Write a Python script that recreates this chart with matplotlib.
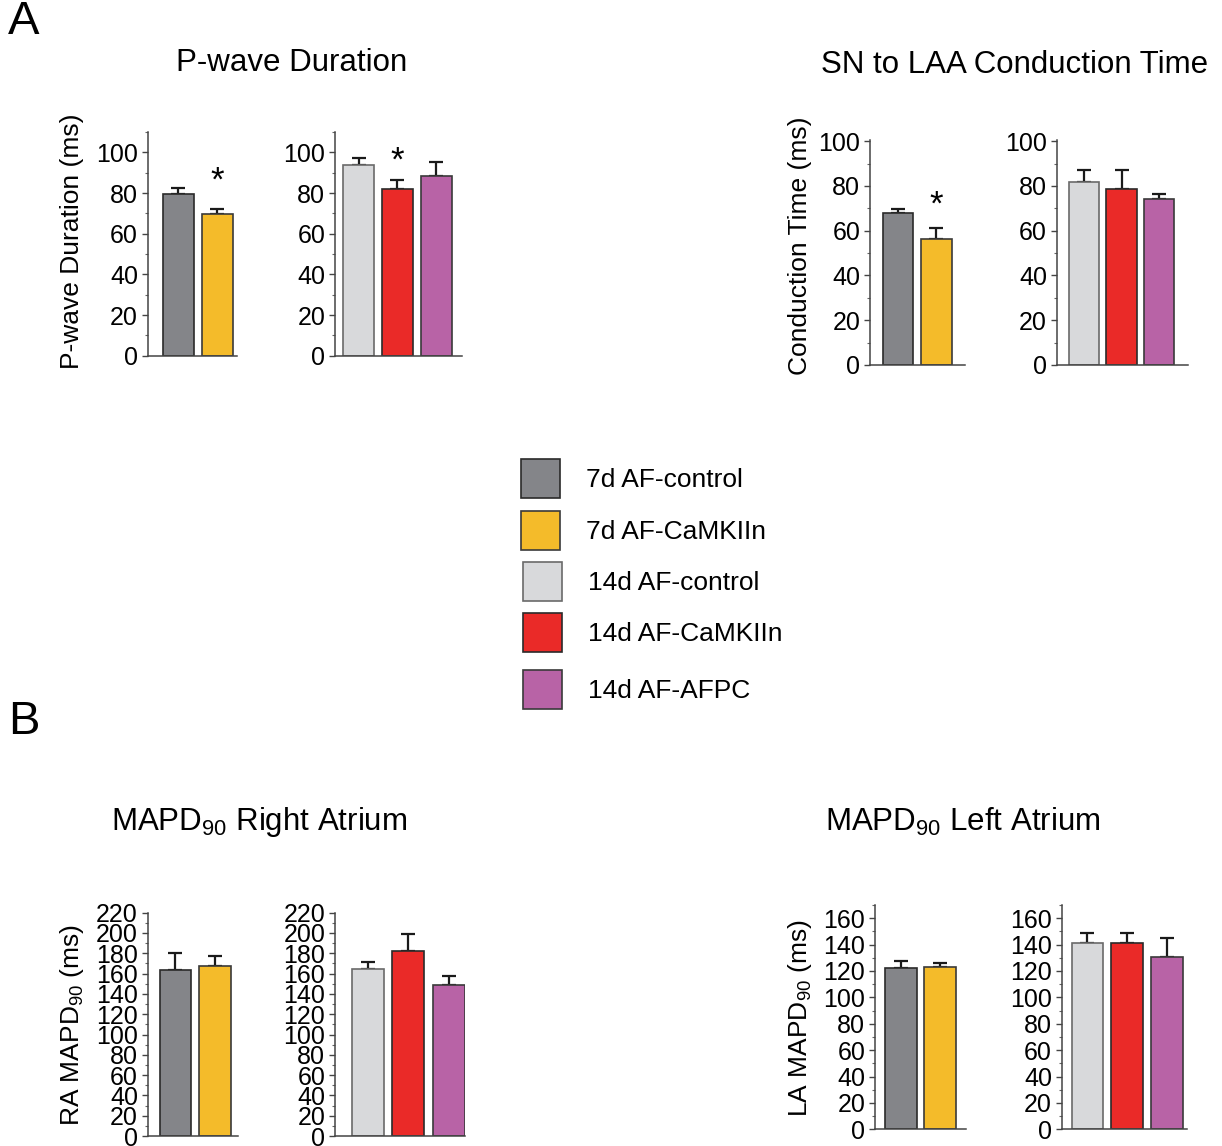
import numpy as np
import matplotlib.pyplot as plt
from matplotlib.patches import Rectangle
from matplotlib.ticker import MultipleLocator

plt.rcParams['font.family'] = ['Liberation Sans', 'DejaVu Sans']
plt.rcParams['mathtext.default'] = 'regular'

W, H = 1222, 1146

# groups and colours
groups = ['7d AF-control', '7d AF-CaMKIIn', '14d AF-control', '14d AF-CaMKIIn', '14d AF-AFPC']
colors = ['#848589', '#F4BB2A', '#D8D9DB', '#EA2A28', '#B863A6']
edges = ['#2a2a2a', '#3a3a3a', '#6a6a6a', '#2a2a2a', '#3a3a3a']

# P-wave duration (ms)
pwave_7d = [79.3, 69.5]
pwave_7d_err = [3.1, 2.6]
pwave_14d = [93.9, 82.1, 88.2]
pwave_14d_err = [3.3, 4.1, 6.9]

# SN to LAA conduction time (ms)
cond_7d = [67.7, 56.5]
cond_7d_err = [1.9, 4.5]
cond_14d = [81.8, 78.4, 74.0]
cond_14d_err = [5.1, 8.5, 2.6]

# MAPD90 right atrium (ms)
ra_7d = [163.5, 167.5]
ra_7d_err = [17.1, 10.2]
ra_14d = [164.5, 181.9, 148.4]
ra_14d_err = [7.3, 16.8, 9.2]

# MAPD90 left atrium (ms)
la_7d = [122.4, 123.2]
la_7d_err = [5.3, 3.2]
la_14d = [141.1, 141.1, 130.5]
la_14d_err = [7.8, 7.8, 14.6]

fig = plt.figure(figsize=(W / 100, H / 100), dpi=100)


def px_axes(x0, x1, ytop, ybot):
    return fig.add_axes([x0 / W, 1 - ybot / H, (x1 - x0) / W, (ybot - ytop) / H])


def bar_panel(ax, means, errs, cols, edg, xl, xr, ymax, step):
    x = np.arange(len(means))
    ax.bar(x, means, width=0.8, color=cols, edgecolor=edg, linewidth=1.2, zorder=2)
    ax.errorbar(x, means, yerr=[np.zeros(len(errs)), errs], fmt='none', ecolor='#1a1a1a',
                elinewidth=1.6, capsize=5, capthick=1.6, zorder=1)
    ax.set_xlim(xl, xr)
    ax.set_ylim(0, ymax)
    ax.yaxis.set_major_locator(MultipleLocator(step))
    ax.yaxis.set_minor_locator(MultipleLocator(step / 2))
    ax.set_xticks([])
    for s in ['top', 'right']:
        ax.spines[s].set_visible(False)
    for s in ['left', 'bottom']:
        ax.spines[s].set_color('#444444')
        ax.spines[s].set_linewidth(1.1)
    ax.tick_params(axis='y', which='major', labelsize=18, length=4, width=1, pad=3, colors='#444444',
                   labelcolor='black')
    ax.tick_params(axis='y', which='minor', length=2.5, width=0.8, colors='#666666')
    ax.patch.set_alpha(0)


# panel A, P-wave
ax1 = px_axes(147.7, 237, 132, 355.7)
bar_panel(ax1, pwave_7d, pwave_7d_err, colors[:2], edges[:2], -0.785, 1.5, 110, 20)
ax1.text(1, 86, '*', ha='center', va='center', fontsize=25)

ax2 = px_axes(335, 461.7, 132, 355.7)
bar_panel(ax2, pwave_14d, pwave_14d_err, colors[2:], edges[2:], -0.615, 2.66, 110, 20)
ax2.text(1, 95.8, '*', ha='center', va='center', fontsize=25)

# panel A, conduction time
ax3 = px_axes(870, 965, 140, 365)
bar_panel(ax3, cond_7d, cond_7d_err, colors[:2], edges[:2], -0.733, 1.75, 100.5, 20)
ax3.text(1, 71.2, '*', ha='center', va='center', fontsize=25)

ax4 = px_axes(1056.7, 1188.3, 140, 365)
bar_panel(ax4, cond_14d, cond_14d_err, colors[2:], edges[2:], -0.72, 2.77, 100.5, 20)

# panel B, right atrium
ax5 = px_axes(147.7, 238, 912.7, 1136)
bar_panel(ax5, ra_7d, ra_7d_err, colors[:2], edges[:2], -0.70, 1.59, 220, 20)

ax6 = px_axes(335, 465, 912.7, 1136)
bar_panel(ax6, ra_14d, ra_14d_err, colors[2:], edges[2:], -0.83, 2.41, 220, 20)

# panel B, left atrium
ax7 = px_axes(875, 966, 905, 1129.3)
bar_panel(ax7, la_7d, la_7d_err, colors[:2], edges[:2], -0.655, 1.655, 170, 20)

ax8 = px_axes(1061.7, 1187, 905, 1129.3)
bar_panel(ax8, la_14d, la_14d_err, colors[2:], edges[2:], -0.65, 2.51, 170, 20)


def ftext(xp, yp, s, **kw):
    fig.text(xp / W, 1 - yp / H, s, **kw)


# panel letters and titles
ftext(8, 22, 'A', fontsize=34, ha='left', va='center')
ftext(8, 722, 'B', fontsize=34, ha='left', va='center')
ftext(292, 63, 'P-wave Duration', fontsize=22.5, ha='center', va='center')
ftext(1015, 65, 'SN to LAA Conduction Time', fontsize=22.5, ha='center', va='center')
ftext(259, 822, r'MAPD$_{90}$ Right Atrium', fontsize=22.5, ha='center', va='center')
ftext(963, 822, r'MAPD$_{90}$ Left Atrium', fontsize=22.5, ha='center', va='center')

# y labels
ftext(72, 241, 'P-wave Duration (ms)', fontsize=19, rotation=90, ha='center', va='center')
ftext(800, 246, 'Conduction Time (ms)', fontsize=19, rotation=90, ha='center', va='center')
ftext(72, 1025, r'RA MAPD$_{90}$ (ms)', fontsize=19, rotation=90, ha='center', va='center')
ftext(800, 1018, r'LA MAPD$_{90}$ (ms)', fontsize=19, rotation=90, ha='center', va='center')

# legend
leg_x = [521, 521, 523, 523, 523]
leg_y = [459, 511, 562, 613, 670]
txt_x = [586, 586, 588, 588, 588]
for i, g in enumerate(groups):
    fig.patches.append(Rectangle((leg_x[i] / W, 1 - (leg_y[i] + 39) / H), 39 / W, 39 / H,
                                 transform=fig.transFigure, facecolor=colors[i],
                                 edgecolor=edges[i], linewidth=1.2))
    ftext(txt_x[i], leg_y[i] + 21, g, fontsize=19, ha='left', va='center')

fig.savefig('out.png', dpi=100)
